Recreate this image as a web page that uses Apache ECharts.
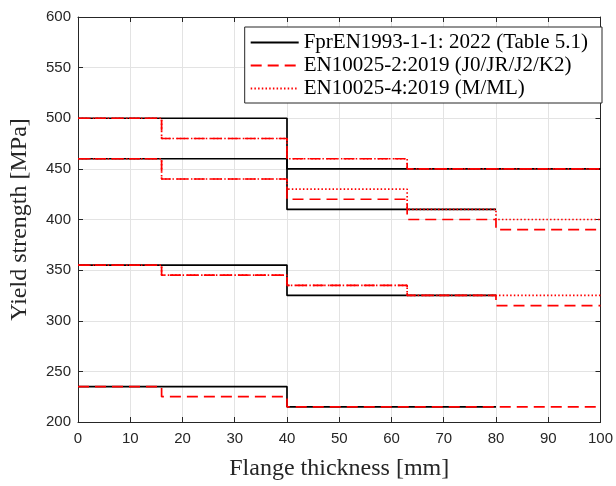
<!DOCTYPE html>
<html>
<head>
<meta charset="utf-8">
<script src="https://cdn.jsdelivr.net/npm/echarts@6/dist/echarts.min.js"></script>
<style>html,body{margin:0;padding:0;background:#fff}#c{width:616px;height:486px}</style>
</head>
<body>
<div id="c"></div>
<script>
// Legend names
const nameEC3 = 'FprEN1993-1-1: 2022 (Table 5.1)';
const nameEN2 = 'EN10025-2:2019 (J0/JR/J2/K2)';
const nameEN4 = 'EN10025-4:2019 (M/ML)';

// Thickness breakpoints [mm] and yield strengths [MPa] per grade
const ec3Breaks = [[0, 40, 80], [0, 40, 80], [0, 40, 80], [0, 40, 100]];
const ec3Values = [[235, 215], [355, 325], [460, 410], [500, 450]];

const en2Breaks = [[0, 16, 40, 100], [0, 16, 40, 63, 80, 100], [0, 16, 40, 63, 80, 100], [0, 16, 40, 63, 100]];
const en2Values = [[235, 225, 215], [355, 345, 335, 325, 315], [460, 440, 420, 400, 390], [500, 480, 460, 450]];

const en4Breaks = [[0, 16, 40, 63, 100], [0, 16, 40, 63, 80, 100], [0, 16, 40, 63, 100]];
const en4Values = [[355, 345, 335, 325], [460, 440, 430, 410, 400], [500, 480, 460, 450]];

const xTicks = [0, 10, 20, 30, 40, 50, 60, 70, 80, 90, 100];
const yTicks = [200, 250, 300, 350, 400, 450, 500, 550, 600];

function stepPoints(breaks, values) {
  const pts = [];
  for (let i = 0; i < values.length; i++) {
    pts.push([breaks[i], values[i]]);
    pts.push([breaks[i + 1], values[i]]);
  }
  return pts;
}

function makeSeries(name, breaksList, valuesList, color, lineStyle, z) {
  return breaksList.map((b, i) => ({
    name: name,
    type: 'line',
    data: stepPoints(b, valuesList[i]),
    symbol: 'none',
    showSymbol: false,
    silent: true,
    animation: false,
    z: z,
    color: color,
    itemStyle: {color: color},
    lineStyle: Object.assign({color: color}, lineStyle)
  }));
}

const series = [].concat(
  makeSeries(nameEC3, ec3Breaks, ec3Values, '#000000', {width: 1.7, type: 'solid'}, 2),
  makeSeries(nameEN2, en2Breaks, en2Values, '#ff0000', {width: 1.7, type: [11, 6], cap: 'butt'}, 3),
  makeSeries(nameEN4, en4Breaks, en4Values, '#ff0000', {width: 1.7, type: [1.5, 2.2], cap: 'butt'}, 4)
);

const axisCol = '#262626';
const tickFont = {color: axisCol, fontFamily: 'Liberation Sans, Arial, sans-serif', fontSize: 15};
const titleFont = {color: axisCol, fontFamily: 'Liberation Serif, Times New Roman, serif', fontSize: 24};

const chart = echarts.init(document.getElementById('c'), null, {renderer: 'canvas'});
chart.setOption({
  backgroundColor: '#ffffff',
  animation: false,
  grid: {left: 77, right: 12, top: 17, bottom: 62, containLabel: false},
  legend: {
    data: [nameEC3, nameEN2, nameEN4],
    orient: 'vertical',
    right: 14,
    top: 27,
    align: 'left',
    itemWidth: 48,
    itemHeight: 14,
    itemGap: 2,
    padding: [5, 14, 4, 5],
    backgroundColor: '#ffffff',
    borderColor: axisCol,
    borderWidth: 1,
    borderRadius: 0,
    selectedMode: false,
    itemStyle: {opacity: 0},
    textStyle: {color: '#000', fontFamily: 'Liberation Serif, Times New Roman, serif', fontSize: 21, lineHeight: 21}
  },
  xAxis: [{
    type: 'value', min: xTicks[0], max: xTicks[xTicks.length - 1], interval: 10,
    name: 'Flange thickness [mm]', nameLocation: 'middle', nameGap: 35, nameTextStyle: titleFont,
    axisLine: {show: true, onZero: false, lineStyle: {color: axisCol, width: 1}},
    axisTick: {show: true, inside: true, length: 5, lineStyle: {color: axisCol}},
    axisLabel: Object.assign({margin: 9}, tickFont),
    splitLine: {show: true, lineStyle: {color: '#e3e3e3', width: 1}}
  }, {
    type: 'value', position: 'top', min: xTicks[0], max: xTicks[xTicks.length - 1], interval: 10,
    axisLine: {show: true, onZero: false, lineStyle: {color: axisCol, width: 1}},
    axisTick: {show: true, inside: true, length: 5, lineStyle: {color: axisCol}},
    axisLabel: {show: false}, splitLine: {show: false}
  }],
  yAxis: [{
    type: 'value', min: yTicks[0], max: yTicks[yTicks.length - 1], interval: 50,
    name: 'Yield strength [MPa]', nameLocation: 'middle', nameGap: 46, nameTextStyle: titleFont,
    axisLine: {show: true, onZero: false, lineStyle: {color: axisCol, width: 1}},
    axisTick: {show: true, inside: true, length: 5, lineStyle: {color: axisCol}},
    axisLabel: Object.assign({margin: 7}, tickFont),
    splitLine: {show: true, lineStyle: {color: '#e3e3e3', width: 1}}
  }, {
    type: 'value', position: 'right', min: yTicks[0], max: yTicks[yTicks.length - 1], interval: 50,
    axisLine: {show: true, onZero: false, lineStyle: {color: axisCol, width: 1}},
    axisTick: {show: true, inside: true, length: 5, lineStyle: {color: axisCol}},
    axisLabel: {show: false}, splitLine: {show: false}
  }],
  series: series
});
</script>
</body>
</html>
